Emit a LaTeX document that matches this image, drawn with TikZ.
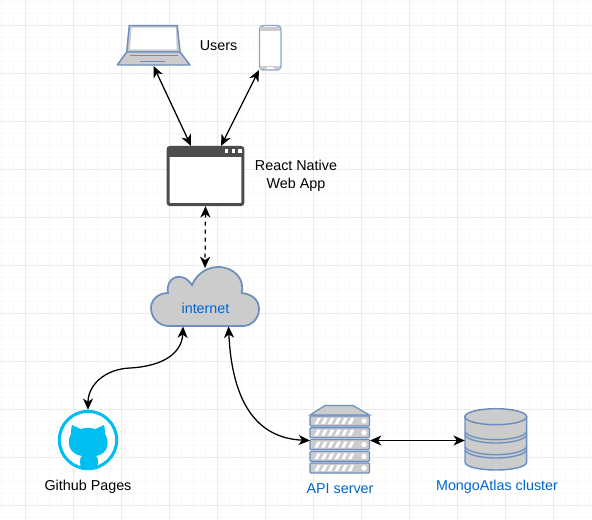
\documentclass[tikz,border=0pt]{standalone}
\usepackage{fontspec}
\setmainfont{Liberation Sans}
\usepackage{xcolor}
\usetikzlibrary{arrows.meta}
\definecolor{C0}{HTML}{6C8EBF}
\definecolor{C1}{HTML}{CCCCCC}
\definecolor{C2}{HTML}{4D4D4D}
\definecolor{C3}{HTML}{00BEF2}
\definecolor{C4}{HTML}{0066CC}
\definecolor{gridmaj}{HTML}{ECECEC}
\definecolor{gridmin}{HTML}{F9F9F9}
\tikzset{
  iconbox/.style 2 args={inner sep=0pt,outer sep=0pt,minimum width=#1*0.75pt,minimum height=#2*0.75pt},
  lab/.style={font=\fontsize{10.75}{13.5}\selectfont,align=center,inner sep=0pt},
  bluelab/.style={lab,text=C4},
  icon/.style={draw=C0,fill=C1,line width=1.1pt},
  conn/.style={line width=0.95pt,{Stealth[length=8.5pt,width=7.5pt,inset=2.5pt]}-{Stealth[length=8.5pt,width=7.5pt,inset=2.5pt]}},
}

\begin{document}
\begin{tikzpicture}[x=0.75pt,y=-0.75pt]
\useasboundingbox (0,0) rectangle (592,519);
\fill[white] (0,0) rectangle (592,519);

% grid
\foreach \gx in {1.5,13.5,...,590}{\draw[gridmin,line width=0.5pt] (\gx,0) -- (\gx,519);}
\foreach \gy in {1.5,13.5,...,518}{\draw[gridmin,line width=0.5pt] (0,\gy) -- (592,\gy);}
\foreach \gx in {25.5,73.5,...,590}{\draw[gridmaj,line width=0.6pt] (\gx,0) -- (\gx,519);}
\foreach \gy in {25.5,73.5,...,518}{\draw[gridmaj,line width=0.6pt] (0,\gy) -- (592,\gy);}

% nodes
\node[iconbox={73}{41}] (laptop) at (153.5,45.5) {};
\node[iconbox={22}{45}] (phone) at (270,47.5) {};
\node[draw=C2,fill=white,line width=2.2pt,rounded corners=1.5pt,inner sep=0pt,minimum width=56pt,minimum height=43pt] (window) at (205.5,176) {};
\node[iconbox={109}{58}] (cloud) at (205,297) {};
\node[draw=C3,fill=white,circle,line width=2.3pt,inner sep=0pt,minimum size=43pt] (github) at (88,440) {};
\node[iconbox={60}{68}] (server) at (340,439.5) {};
\node[iconbox={62}{61}] (db) at (495.8,439.5) {};

% laptop
\draw[icon] (129.3,25.7) -- (177.3,25.7) -- (180,52) -- (126.7,52) -- cycle;
\fill[white] (131.7,27.7) -- (175.7,27.7) -- (176.7,49.3) -- (130,49.3) -- cycle;
\draw[icon,line join=round] (126.7,52) -- (180,52) -- (190,65) -- (117.3,65) -- cycle;
\draw[C0,line width=0.8pt] (130,55.7) -- (178,55.7);
\draw[C0,line width=0.8pt] (140,61.8) -- (165,61.8);

% phone
\draw[draw=C0!80,fill=white,line width=1.1pt,rounded corners=3pt] (259.5,25.5) rectangle (281,70);
\fill[C1] (260.2,27) rectangle (280.3,30.5);
\fill[C1] (260.2,66) rectangle (280.3,69.3);
\fill[white] (267,67) rectangle (274,68.6);

% window
\fill[C2] (167,146.5) rectangle (244,157);
\foreach \wx in {226.7,233.3,240}{\fill[white] (\wx-1.7,149.4) rectangle (\wx+1.7,152.8);}

% cloud
\draw[icon,line width=1.3pt] (169,326) .. controls (158,326) and (151,317) .. (151,308)
  .. controls (151,299) and (159,293) .. (168,293)
  .. controls (165,277) and (182,270) .. (192,285)
  .. controls (197,273) and (208,267) .. (218,267)
  .. controls (234,267) and (245,279) .. (241.7,293)
  .. controls (252,294) and (259,300) .. (259,309)
  .. controls (259,319) and (251,326) .. (243,326) -- cycle;
\node[bluelab] (internet) at (205.5,308) {internet};

% github cat
\fill[C3] (72,425) -- (80.5,429) .. controls (85,427.6) and (91,427.6) .. (95.5,429) -- (104,425)
  .. controls (105,429) and (105,432) .. (105,434)
  .. controls (110,441) and (108.5,454) .. (96,456)
  .. controls (99,458) and (97.5,462) .. (97.5,469) -- (80.5,469)
  .. controls (80.5,462) and (79,458) .. (82,456)
  .. controls (68,454) and (66.5,441) .. (71,434)
  .. controls (71,432) and (71,429) .. (72,425) -- cycle;

% server
\draw[icon,line width=0.9pt] (310,415) -- (325,405.5) -- (353,405.5) -- (369.5,415) -- cycle;
\foreach \sy in {416,427.7,439.5,451.3,463}{
  \draw[icon,line width=0.9pt,rounded corners=0.8pt] (310,\sy) rectangle (369.5,\sy+10);
  \foreach \sx in {0,1,2,3,4,5}{
    \fill[white] (314.5+\sx*6.7,\sy+8) -- (317.8+\sx*6.7,\sy+8) -- (320.8+\sx*6.7,\sy+2) -- (317.5+\sx*6.7,\sy+2) -- cycle;
  }
  \fill[white] (364,\sy+5) circle[radius=2.6];
}

% database
\draw[icon] (465,416.7) -- (465,462) .. controls (465,467) and (480,470) .. (495.8,470) .. controls (512,470) and (526.7,467) .. (526.7,462) -- (526.7,416.7) -- cycle;
\draw[icon] (495.8,416.7) ellipse[x radius=30.9,y radius=8];
\foreach \by in {431.7,435,446.7,450}{
  \draw[C0,line width=1pt] (465,\by) .. controls (467,\by+5) and (482,\by+8) .. (495.8,\by+8) .. controls (510,\by+8) and (524.7,\by+5) .. (526.7,\by);
}

% connectors
\coordinate (w1) at (191,146);
\coordinate (w2) at (221,146);
\coordinate (c1) at (183,326.5);
\coordinate (c2) at (228.5,326.5);
\coordinate (s1) at (310,440.5);
\draw[conn] (laptop.south) -- (w1);
\draw[conn] (phone.south west) -- (w2);
\draw[conn,dashed] (window.south) -- (cloud.north);
\draw[conn] (c1) .. controls (182,352) and (165,366) .. (130,368) .. controls (105,369) and (88,385) .. (github.north);
\draw[conn] (c2) .. controls (232,400) and (255,438) .. (s1);
\draw[conn] (server.east |- s1) -- (db.west |- s1);

% labels
\node[lab] (users) at (218.5,46) {Users};
\node[lab] (webapp) at (296,176) {React Native\\Web App};
\node[lab] (ghlabel) at (88,487) {Github Pages};
\node[bluelab] (apilabel) at (340,489) {API server};
\node[bluelab] (dblabel) at (497,487) {MongoAtlas cluster};
\end{tikzpicture}
\end{document}
